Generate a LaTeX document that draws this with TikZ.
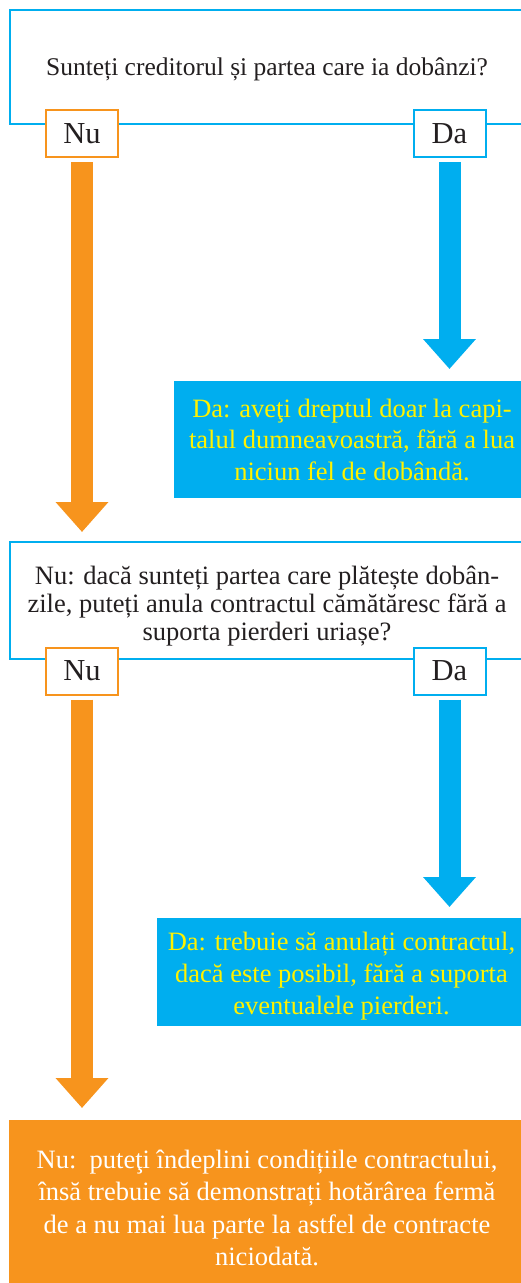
\documentclass[tikz,border=0pt]{standalone}
\usepackage{fontspec}
\setmainfont{Liberation Serif}
\usepackage{xcolor}
\usetikzlibrary{arrows.meta, positioning}
\definecolor{qblue}{HTML}{00AEEF}
\definecolor{qorange}{HTML}{F7941D}
\definecolor{qyellow}{HTML}{FFF200}
\definecolor{qtext}{HTML}{231F20}

\begin{document}
\begin{tikzpicture}[
    x=1pt, y=1pt,
    question/.style={rectangle, draw=qblue, line width=2pt, minimum width=514pt, align=center, text=qtext, inner sep=0pt, outer sep=0pt, font=\fontsize{26.5}{28}\selectfont},
    tag/.style={rectangle, draw, fill=white, line width=2pt, minimum width=72pt, minimum height=47pt, inner sep=0pt, outer sep=0pt, text=qtext, font=\fontsize{30.5}{30}\selectfont},
    yesbox/.style={rectangle, fill=qblue, text=qyellow, align=center, inner sep=0pt, outer sep=0pt, font=\fontsize{26.5}{31.5}\selectfont},
    nobox/.style={rectangle, fill=qorange, text=white, align=center, inner sep=0pt, outer sep=0pt, font=\fontsize{26.5}{32.5}\selectfont},
    bigarrow/.style={line width=22pt, -{Triangle[width=51pt, length=30pt]}, shorten <=5pt},
]
\useasboundingbox (0,0) rectangle (521,-1283);
\clip (0,0) rectangle (521,-1283);

\node[question, minimum height=114pt, text height=22pt, font=\fontsize{25.5}{28}\selectfont] (q1) at (267,-67) {Sunteți creditorul și partea care ia dobânzi?};
\node[tag, draw=qorange] (nu1) at ([xshift=72pt, yshift=-9.5pt]q1.south west) {Nu};
\node[tag, draw=qblue] (da1) at ([xshift=-74.5pt, yshift=-9.5pt]q1.south east) {Da};

\node[yesbox, minimum width=356pt, minimum height=117pt, below=224pt of da1, xshift=-97.5pt] (yes1) {Da: aveţi dreptul doar la capi-\\talul dumneavoastră, fără a lua\\niciun fel de dobândă.};

\node[question, minimum height=117pt, text height=85pt, below=418pt of q1] (q2) {Nu: dacă sunteți partea care plătește dobân-\\zile, puteți anula contractul cămătăresc fără a\\suporta pierderi uriașe?};
\node[tag, draw=qorange] (nu2) at ([xshift=72pt, yshift=-12pt]q2.south west) {Nu};
\node[tag, draw=qblue] (da2) at ([xshift=-74.5pt, yshift=-12pt]q2.south east) {Da};

\node[yesbox, minimum width=369pt, minimum height=108pt, text height=91pt, font=\fontsize{26.5}{32}\selectfont, below=223.5pt of da2, xshift=-108pt] (yes2) {Da: trebuie să anulați contractul,\\dacă este posibil, fără a suporta\\eventualele pierderi.};

\node[nobox, minimum width=516pt, minimum height=176pt, below=461pt of q2] (no1) {Nu:\ \ puteţi îndeplini condițiile contractului,\\însă trebuie să demonstrați hotărârea fermă\\de a nu mai lua parte la astfel de contracte\\niciodată.};

\draw[bigarrow, qblue, shorten >=12pt] (da1) -- (yes1.north -| da1);
\draw[bigarrow, qorange, shorten >=10pt] (nu1) -- (q2.north -| nu1);
\draw[bigarrow, qblue, shorten >=11pt] (da2) -- (yes2.north -| da2);
\draw[bigarrow, qorange, shorten >=12pt] (nu2) -- (no1.north -| nu2);

\end{tikzpicture}
\end{document}
